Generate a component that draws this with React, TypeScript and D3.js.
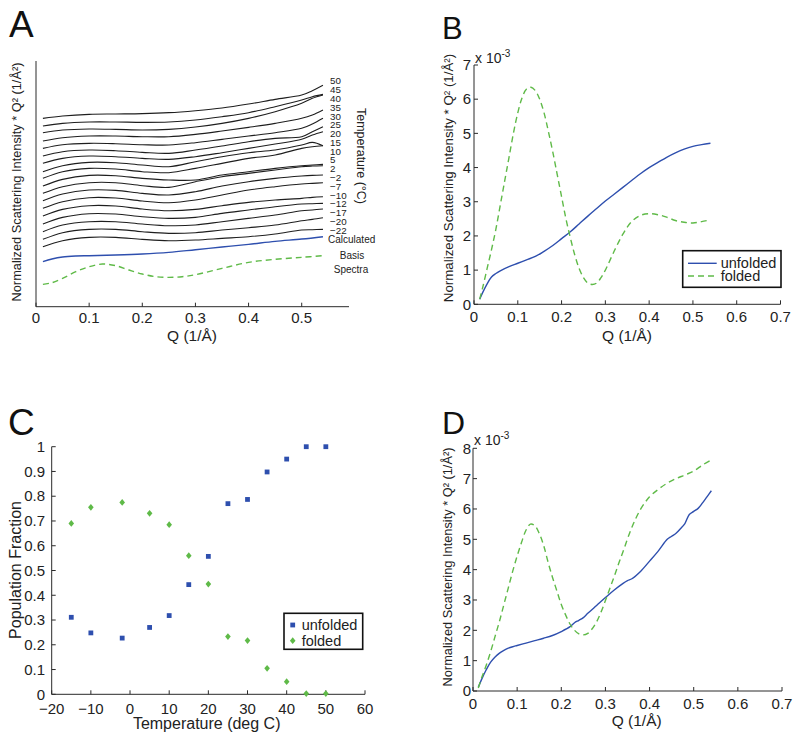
import React from "react";
import * as d3 from "d3";

const FONT = "'Liberation Sans', Arial, Helvetica, sans-serif";
const BLUE = "#2e4fae";
const GREEN = "#5fba48";
const AXIS = "#2a2a2a";
const CURVE = "#1e1e1e";

// ---------- Panel A (offset spectra, arbitrary units) ----------
const A_Q = [0.013, 0.05, 0.1, 0.15, 0.2, 0.25, 0.3, 0.35, 0.4, 0.45, 0.5, 0.52, 0.54];
const A_TEMPS = ["50", "45", "40", "35", "30", "25", "20", "15", "10", "5", "2", "\u22122", "\u22127", "\u221210", "\u221212", "\u221217", "\u221220", "\u221222"];
const A_CURVE_50 = [565, 572, 577, 578, 579, 582, 588, 596, 608, 622, 635, 648, 664];
const A_CURVE_45 = [542, 550, 554, 554, 553, 554, 560, 570, 582, 600, 620, 630, 637];
const A_CURVE_40 = [522, 530, 533, 532, 530, 532, 539, 550, 565, 585, 610, 625, 635];
const A_CURVE_35 = [497, 507, 512, 512, 510, 510, 517, 527, 538, 550, 565, 575, 590];
const A_CURVE_30 = [475, 486, 490, 489, 486, 485, 492, 502, 512, 522, 535, 548, 565];
const A_CURVE_25 = [452, 465, 470, 468, 463, 460, 470, 482, 495, 505, 510, 525, 540];
const A_CURVE_20 = [430, 445, 452, 450, 445, 442, 450, 462, 475, 488, 502, 515, 525];
const A_CURVE_15 = [405, 423, 433, 432, 425, 420, 435, 450, 462, 470, 485, 493, 483];
const A_CURVE_10 = [385, 405, 415, 413, 405, 402, 415, 430, 445, 455, 475, 480, 483];
const A_CURVE_5 = [362, 382, 394, 393, 385, 380, 380, 395, 405, 415, 423, 425, 427];
const A_CURVE_2 = [340, 360, 372, 372, 363, 358, 375, 390, 400, 410, 420, 422, 423];
const A_CURVE_M2 = [318, 338, 350, 349, 340, 335, 345, 362, 375, 385, 392, 394, 395];
const A_CURVE_M7 = [295, 315, 327, 326, 317, 312, 320, 335, 350, 360, 368, 370, 372];
const A_CURVE_M10 = [272, 292, 303, 302, 293, 288, 292, 303, 313, 320, 325, 328, 330];
const A_CURVE_M12 = [248, 268, 279, 278, 270, 265, 268, 280, 290, 300, 308, 309, 310];
const A_CURVE_M17 = [225, 245, 255, 255, 248, 243, 245, 255, 265, 275, 288, 290, 293];
const A_CURVE_M20 = [202, 222, 232, 232, 225, 220, 222, 230, 237, 245, 258, 262, 267];
const A_CURVE_M22 = [180, 198, 208, 208, 202, 198, 200, 205, 210, 218, 230, 231, 232];
const A_CURVES = [
  A_CURVE_50, A_CURVE_45, A_CURVE_40, A_CURVE_35, A_CURVE_30, A_CURVE_25,
  A_CURVE_20, A_CURVE_15, A_CURVE_10, A_CURVE_5, A_CURVE_2, A_CURVE_M2,
  A_CURVE_M7, A_CURVE_M10, A_CURVE_M12, A_CURVE_M17, A_CURVE_M20, A_CURVE_M22,
];
const A_BASIS_Q = [0.013, 0.03, 0.05, 0.075, 0.1, 0.15, 0.2, 0.25, 0.3, 0.35, 0.4, 0.45, 0.5, 0.54];
const A_BASIS_UNFOLDED = [135, 143, 149, 152, 153, 155, 158, 163, 171, 179, 187, 196, 203, 210];
const A_SPECTRA_Q = [0.013, 0.03, 0.05, 0.075, 0.1, 0.125, 0.15, 0.175, 0.2, 0.225, 0.25, 0.275, 0.3, 0.35, 0.4, 0.45, 0.5, 0.54];
const A_SPECTRA_FOLDED = [67, 72, 85, 105, 120, 128, 123, 110, 98, 90, 88, 90, 96, 115, 133, 142, 148, 153];
const A_XTICKS = [0, 0.1, 0.2, 0.3, 0.4, 0.5];
const A_XLABELS = ["0", "0.1", "0.2", "0.3", "0.4", "0.5"];

// ---------- Panel B (x 10^-3) ----------
const B_UNF_Q = [0.013, 0.02, 0.03, 0.04, 0.05, 0.06, 0.08, 0.1, 0.12, 0.14, 0.16, 0.18, 0.2, 0.22, 0.24, 0.26, 0.28, 0.3, 0.32, 0.34, 0.36, 0.38, 0.4, 0.42, 0.44, 0.46, 0.48, 0.5, 0.52, 0.54];
const B_UNFOLDED = [0.15, 0.35, 0.6, 0.8, 0.9, 0.98, 1.1, 1.2, 1.3, 1.4, 1.55, 1.72, 1.92, 2.12, 2.35, 2.58, 2.8, 3.02, 3.22, 3.42, 3.62, 3.82, 4.0, 4.15, 4.3, 4.43, 4.54, 4.62, 4.67, 4.71];
const B_FOLD_Q = [0.013, 0.02, 0.03, 0.04, 0.05, 0.06, 0.07, 0.08, 0.09, 0.1, 0.11, 0.12, 0.13, 0.14, 0.15, 0.16, 0.17, 0.18, 0.19, 0.2, 0.21, 0.22, 0.23, 0.24, 0.25, 0.26, 0.27, 0.28, 0.29, 0.3, 0.32, 0.34, 0.36, 0.38, 0.4, 0.42, 0.44, 0.46, 0.48, 0.5, 0.52, 0.54];
const B_FOLDED = [0.15, 0.5, 1.05, 1.6, 2.2, 2.9, 3.6, 4.3, 5.0, 5.6, 6.05, 6.3, 6.35, 6.25, 6.0, 5.6, 5.05, 4.45, 3.8, 3.15, 2.5, 1.95, 1.45, 1.05, 0.78, 0.62, 0.58, 0.62, 0.78, 1.0, 1.55, 2.05, 2.42, 2.6, 2.65, 2.62, 2.55, 2.45, 2.4, 2.38, 2.42, 2.47];
const BD_XTICKS = [0, 0.1, 0.2, 0.3, 0.4, 0.5, 0.6, 0.7];
const BD_XLABELS = ["0", "0.1", "0.2", "0.3", "0.4", "0.5", "0.6", "0.7"];
const B_YTICKS = [0, 1, 2, 3, 4, 5, 6, 7];

// ---------- Panel C ----------
const C_TEMPS = [-15, -10, -2, 5, 10, 15, 20, 25, 30, 35, 40, 45, 50];
const C_UNFOLDED = [0.311, 0.248, 0.227, 0.27, 0.318, 0.443, 0.557, 0.77, 0.787, 0.898, 0.95, 1.0, 1.0];
const C_FOLDED = [0.69, 0.755, 0.775, 0.731, 0.685, 0.56, 0.445, 0.233, 0.217, 0.105, 0.051, 0.003, 0.003];
const C_XTICKS = [-20, -10, 0, 10, 20, 30, 40, 50, 60];
const C_XLABELS = ["\u221220", "\u221210", "0", "10", "20", "30", "40", "50", "60"];
const C_YTICKS = [0, 0.1, 0.2, 0.3, 0.4, 0.5, 0.6, 0.7, 0.8, 0.9, 1];
const C_YLABELS = ["0", "0.1", "0.2", "0.3", "0.4", "0.5", "0.6", "0.7", "0.8", "0.9", "1"];

// ---------- Panel D (x 10^-3) ----------
const D_UNF_Q = [0.012, 0.02, 0.03, 0.04, 0.05, 0.06, 0.07, 0.08, 0.09, 0.1, 0.12, 0.14, 0.16, 0.18, 0.2, 0.22, 0.23, 0.24, 0.25, 0.26, 0.28, 0.3, 0.32, 0.34, 0.35, 0.36, 0.38, 0.4, 0.42, 0.44, 0.45, 0.46, 0.47, 0.48, 0.49, 0.5, 0.51, 0.52, 0.53, 0.54];
const D_UNFOLDED = [0.12, 0.4, 0.7, 0.95, 1.12, 1.25, 1.34, 1.41, 1.46, 1.5, 1.58, 1.66, 1.74, 1.83, 1.96, 2.12, 2.25, 2.33, 2.42, 2.56, 2.82, 3.08, 3.33, 3.55, 3.64, 3.7, 3.95, 4.28, 4.62, 5.0, 5.1, 5.2, 5.35, 5.52, 5.82, 5.92, 6.02, 6.2, 6.4, 6.6];
const D_FOLD_Q = [0.012, 0.02, 0.03, 0.04, 0.05, 0.06, 0.07, 0.08, 0.09, 0.1, 0.11, 0.12, 0.13, 0.14, 0.15, 0.16, 0.17, 0.18, 0.19, 0.2, 0.21, 0.22, 0.23, 0.24, 0.25, 0.26, 0.27, 0.28, 0.29, 0.3, 0.31, 0.32, 0.33, 0.34, 0.36, 0.38, 0.4, 0.42, 0.44, 0.46, 0.48, 0.5, 0.52, 0.54];
const D_FOLDED = [0.1, 0.45, 0.85, 1.3, 1.8, 2.3, 2.85, 3.4, 3.95, 4.45, 4.9, 5.3, 5.5, 5.45, 5.2, 4.8, 4.25, 3.75, 3.3, 2.85, 2.5, 2.2, 2.0, 1.88, 1.85, 1.9, 2.05, 2.28, 2.6, 2.98, 3.38, 3.78, 4.2, 4.6, 5.4, 6.0, 6.4, 6.65, 6.85, 7.0, 7.12, 7.25, 7.45, 7.62];
const D_YTICKS = [0, 1, 2, 3, 4, 5, 6, 7, 8];

const YLABEL = "Normalized Scattering Intensity * Q\u00B2 (1/\u00C5\u00B2)";

function linePath(xs: number[], ys: number[], sx: any, sy: any) {
  const gen = d3
    .line<number>()
    .x((_, i) => sx(xs[i]))
    .y((d) => sy(d))
    .curve(d3.curveCatmullRom.alpha(0.5));
  return gen(ys) || "";
}

function XAxis({ sx, y, ticks, labels, x0, x1, labelY, tick = 4 }: any) {
  return (
    <g>
      <line x1={x0} x2={x1} y1={y} y2={y} stroke={AXIS} strokeWidth={1} />
      {ticks.map((t: number, i: number) => (
        <g key={i}>
          <line x1={sx(t)} x2={sx(t)} y1={y} y2={y - tick} stroke={AXIS} strokeWidth={1} />
          <text x={sx(t)} y={labelY} textAnchor="middle" dy="0.35em" fontSize={15} fill="#222">
            {labels[i]}
          </text>
        </g>
      ))}
    </g>
  );
}

function YAxis({ sy, x, ticks, labels, y0, y1, labelX, tick = 4 }: any) {
  return (
    <g>
      <line x1={x} x2={x} y1={y0} y2={y1} stroke={AXIS} strokeWidth={1} />
      {ticks.map((t: number, i: number) => (
        <g key={i}>
          <line x1={x} x2={x + tick} y1={sy(t)} y2={sy(t)} stroke={AXIS} strokeWidth={1} />
          <text x={labelX} y={sy(t)} textAnchor="end" dy="0.35em" fontSize={15} fill="#222">
            {labels[i]}
          </text>
        </g>
      ))}
    </g>
  );
}

export default function App() {
  // Panel A scales
  const xA = d3.scaleLinear().domain([0, 0.589]).range([36, 349]);
  const yA = d3.scaleLinear().domain([0, 740]).range([306.7, 60]);
  // Panel B
  const xB = d3.scaleLinear().domain([0, 0.7]).range([474, 780.5]);
  const yB = d3.scaleLinear().domain([0, 7]).range([304.3, 65]);
  // Panel C
  const xC = d3.scaleLinear().domain([-20, 60]).range([51.7, 365]);
  const yC = d3.scaleLinear().domain([0, 1]).range([694.3, 446.7]);
  // Panel D
  const xD = d3.scaleLinear().domain([0, 0.7]).range([473, 782]);
  const yD = d3.scaleLinear().domain([0, 8]).range([691, 448.3]);

  return (
    <svg
      width={800}
      height={740}
      style={{ position: "absolute", left: 0, top: 0, background: "#fff" }}
      fontFamily={FONT}
    >
      <rect x={0} y={0} width={800} height={740} fill="#fff" />

      {/* ===== Panel A ===== */}
      <text x={9} y={37} fontSize={37} fill="#111">A</text>
      {A_CURVES.map((c, i) => (
        <path key={i} d={linePath(A_Q, c, xA, yA)} fill="none" stroke={CURVE} strokeWidth={1.1} />
      ))}
      <path d={linePath(A_BASIS_Q, A_BASIS_UNFOLDED, xA, yA)} fill="none" stroke={BLUE} strokeWidth={1.4} />
      <path d={linePath(A_SPECTRA_Q, A_SPECTRA_FOLDED, xA, yA)} fill="none" stroke={GREEN} strokeWidth={1.4} strokeDasharray="6,4" />
      {A_TEMPS.map((t, i) => (
        <text key={i} x={330} y={81 + i * 8.78} dy="0.35em" fontSize={9.8} fill="#222">{t}</text>
      ))}
      <text x={328} y={239.5} dy="0.35em" fontSize={10} fill="#222">Calculated</text>
      <text x={352} y={255} dy="0.35em" fontSize={10} fill="#222" textAnchor="middle">Basis</text>
      <text x={351} y={269.5} dy="0.35em" fontSize={10} fill="#222" textAnchor="middle">Spectra</text>
      <text transform="translate(361,156) rotate(90)" textAnchor="middle" dy="0.35em" fontSize={12.5} fill="#222">
        Temperature (°C)
      </text>
      <line x1={36} x2={36} y1={61} y2={306.7} stroke={AXIS} strokeWidth={1} />
      <XAxis sx={xA} y={306.7} ticks={A_XTICKS} labels={A_XLABELS} x0={36} x1={349} labelY={318} />
      <text x={192} y={336} dy="0.35em" textAnchor="middle" fontSize={15.5} fill="#222">Q (1/Å)</text>
      <text transform="translate(16.5,182) rotate(-90)" textAnchor="middle" dy="0.35em" fontSize={12.8} fill="#222">
        {YLABEL}
      </text>

      {/* ===== Panel B ===== */}
      <text x={442} y={39} fontSize={31} fill="#111">B</text>
      <path d={linePath(B_UNF_Q, B_UNFOLDED, xB, yB)} fill="none" stroke={BLUE} strokeWidth={1.4} />
      <path d={linePath(B_FOLD_Q, B_FOLDED, xB, yB)} fill="none" stroke={GREEN} strokeWidth={1.4} strokeDasharray="6,4" />
      <YAxis sy={yB} x={474} ticks={B_YTICKS} labels={B_YTICKS.map(String)} y0={65} y1={304.3} labelX={471} />
      <XAxis sx={xB} y={304.3} ticks={BD_XTICKS} labels={BD_XLABELS} x0={474} x1={780.5} labelY={316.5} />
      <text x={475} y={63} fontSize={14} fill="#222">
        x 10<tspan dy={-6} fontSize={10}>-3</tspan>
      </text>
      <text x={627} y={336} dy="0.35em" textAnchor="middle" fontSize={15.5} fill="#222">Q (1/Å)</text>
      <text transform="translate(448,178) rotate(-90)" textAnchor="middle" dy="0.35em" fontSize={13.3} fill="#222">
        {YLABEL}
      </text>
      <rect x={682.7} y={250.7} width={98.3} height={36.6} fill="#fff" stroke="#111" strokeWidth={1.6} />
      <line x1={688} x2={716.7} y1={263.3} y2={263.3} stroke={BLUE} strokeWidth={1.4} />
      <text x={720.7} y={263.3} dy="0.35em" fontSize={14.5} fill="#222">unfolded</text>
      <line x1={688} x2={716.7} y1={276} y2={276} stroke={GREEN} strokeWidth={1.4} strokeDasharray="6,4" />
      <text x={720.7} y={276} dy="0.35em" fontSize={14.5} fill="#222">folded</text>

      {/* ===== Panel C ===== */}
      <text x={8} y={435} fontSize={37} fill="#111">C</text>
      <YAxis sy={yC} x={51.7} ticks={C_YTICKS} labels={C_YLABELS} y0={446.7} y1={694.3} labelX={45} />
      <XAxis sx={xC} y={694.3} ticks={C_XTICKS} labels={C_XLABELS} x0={51.7} x1={365} labelY={708.3} />
      <text x={206.7} y={723.5} dy="0.35em" textAnchor="middle" fontSize={16} fill="#222">Temperature (deg C)</text>
      <text transform="translate(15,570) rotate(-90)" textAnchor="middle" dy="0.35em" fontSize={16} fill="#222">
        Population Fraction
      </text>
      {C_TEMPS.map((t, i) => (
        <rect key={"u" + i} x={xC(t) - 2.4} y={yC(C_UNFOLDED[i]) - 2.4} width={4.8} height={4.8} fill={BLUE} />
      ))}
      {C_TEMPS.map((t, i) => {
        const cx = xC(t);
        const cy = yC(C_FOLDED[i]);
        return (
          <path key={"f" + i} d={`M${cx},${cy - 3.4}L${cx + 2.8},${cy}L${cx},${cy + 3.4}L${cx - 2.8},${cy}Z`} fill={GREEN} />
        );
      })}
      <rect x={284} y={613.3} width={78.7} height={36} fill="#fff" stroke="#111" strokeWidth={1.6} />
      <rect x={292.7 - 2.4} y={625 - 2.4} width={4.8} height={4.8} fill={BLUE} />
      <text x={301.7} y={625} dy="0.35em" fontSize={14.5} fill="#222">unfolded</text>
      <path d={`M292.7,${640.7 - 3.4}L${292.7 + 2.8},640.7L292.7,${640.7 + 3.4}L${292.7 - 2.8},640.7Z`} fill={GREEN} />
      <text x={301.7} y={640.7} dy="0.35em" fontSize={14.5} fill="#222">folded</text>

      {/* ===== Panel D ===== */}
      <text x={442} y={434} fontSize={32} fill="#111">D</text>
      <path d={linePath(D_UNF_Q, D_UNFOLDED, xD, yD)} fill="none" stroke={BLUE} strokeWidth={1.4} />
      <path d={linePath(D_FOLD_Q, D_FOLDED, xD, yD)} fill="none" stroke={GREEN} strokeWidth={1.4} strokeDasharray="6,4" />
      <YAxis sy={yD} x={473} ticks={D_YTICKS} labels={D_YTICKS.map(String)} y0={448.3} y1={691} labelX={471} />
      <XAxis sx={xD} y={691} ticks={BD_XTICKS} labels={BD_XLABELS} x0={473} x1={782} labelY={703.3} />
      <text x={474} y={445} fontSize={14} fill="#222">
        x 10<tspan dy={-6} fontSize={10}>-3</tspan>
      </text>
      <text x={636.7} y={721} dy="0.35em" textAnchor="middle" fontSize={15.5} fill="#222">Q (1/Å)</text>
      <text transform="translate(448,567) rotate(-90)" textAnchor="middle" dy="0.35em" fontSize={12.8} fill="#222">
        {YLABEL}
      </text>
    </svg>
  );
}
